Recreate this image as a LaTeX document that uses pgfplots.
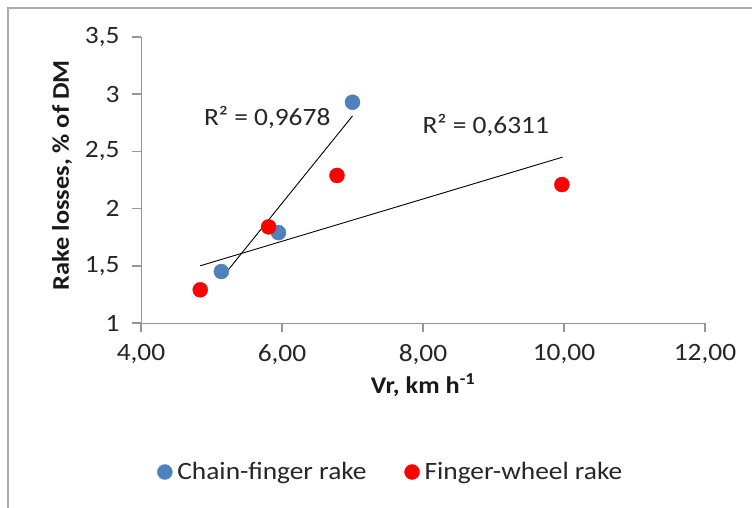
\documentclass[border=0pt]{standalone}
\usepackage{fontspec}
\setmainfont{Carlito}[FakeStretch=1.1]
\usepackage{pgfplots}
\pgfplotsset{compat=1.18}
\definecolor{cblue}{HTML}{4F81BD}
\definecolor{cred}{HTML}{FF0000}
\definecolor{axgray}{HTML}{969696}
\begin{document}
\begin{tikzpicture}
\path[use as bounding box] (0bp,0bp) rectangle (752bp,508bp);
\fill[white] (0bp,0bp) rectangle (752bp,508bp);
\draw[gray!65, line width=1.8bp] (8bp,0bp) -- (8bp,500bp) -- (752bp,500bp);
\begin{axis}[
  at={(141bp,185bp)}, anchor=south west,
  scale only axis, width=564bp, height=286bp,
  xmin=4, xmax=12, ymin=1, ymax=3.5,
  axis x line*=bottom, axis y line*=left,
  axis line style={-, axgray, line width=1bp},
  xtick={4,6,8,10,12}, ytick={1,1.5,2,2.5,3,3.5},
  tick align=outside,
  major tick length=9bp,
  major tick style={draw=axgray, line width=1.5bp},
  /pgf/number format/assume math mode=true,
  tick label style={font=\fontsize{25}{30}\selectfont, text=black!85},
  xticklabel style={yshift=-9bp, /pgf/number format/.cd, fixed, fixed zerofill, precision=2, use comma},
  yticklabel style={xshift=-9bp, /pgf/number format/.cd, fixed, use comma},
  xlabel={\bfseries Vr, km h\textsuperscript{-1}},
  ylabel={\bfseries Rake losses, \% of DM},
  label style={font=\fontsize{24}{28}\selectfont, text=black!90},
  xlabel style={at={(axis description cs:0.5,-0.217)}, anchor=center},
  ylabel style={at={(axis description cs:-0.14,0.517)}, anchor=center},
  legend style={at={(axis description cs:0.443,-0.521)}, anchor=center,
    draw=none, fill=none, legend columns=2,
    font=\fontsize{25}{30}\selectfont, text=black!85,
    /tikz/every odd column/.append style={column sep=3bp},
    /tikz/every even column/.append style={column sep=36bp}},
  clip=false,
]
\pgfplotsinvokeforeach{4,6,8,10,12}{\draw[axgray, line width=1.2bp] (axis cs:#1,1) -- ++(0bp,-9bp);}
\pgfplotsinvokeforeach{1,1.5,2,2.5,3,3.5}{\draw[axgray, line width=1.2bp] (axis cs:4,#1) -- ++(-8bp,0bp);}
\addplot[only marks, mark=*, mark size=7.5bp, color=cblue, mark options={draw=cblue, fill=cblue}]
  coordinates {(5.14,1.45) (5.95,1.79) (7.00,2.93)};
\addlegendentry{Chain-finger rake}
\addplot[only marks, mark=*, mark size=7.5bp, color=cred, mark options={draw=cred, fill=cred}]
  coordinates {(4.84,1.29) (5.81,1.84) (6.78,2.29) (9.97,2.21)};
\addlegendentry{Finger-wheel rake}
\addplot[black, line width=0.9bp, no marks, forget plot] coordinates {(5.14,1.39) (7.00,2.81)};
\addplot[black, line width=0.9bp, no marks, forget plot] coordinates {(4.84,1.50) (9.98,2.45)};
\node[font=\fontsize{25}{30}\selectfont, text=black!85] at (axis cs:5.79,2.80) {R² = 0,9678};
\node[font=\fontsize{25}{30}\selectfont, text=black!85] at (axis cs:8.89,2.73) {R² = 0,6311};
\end{axis}
\end{tikzpicture}
\end{document}
